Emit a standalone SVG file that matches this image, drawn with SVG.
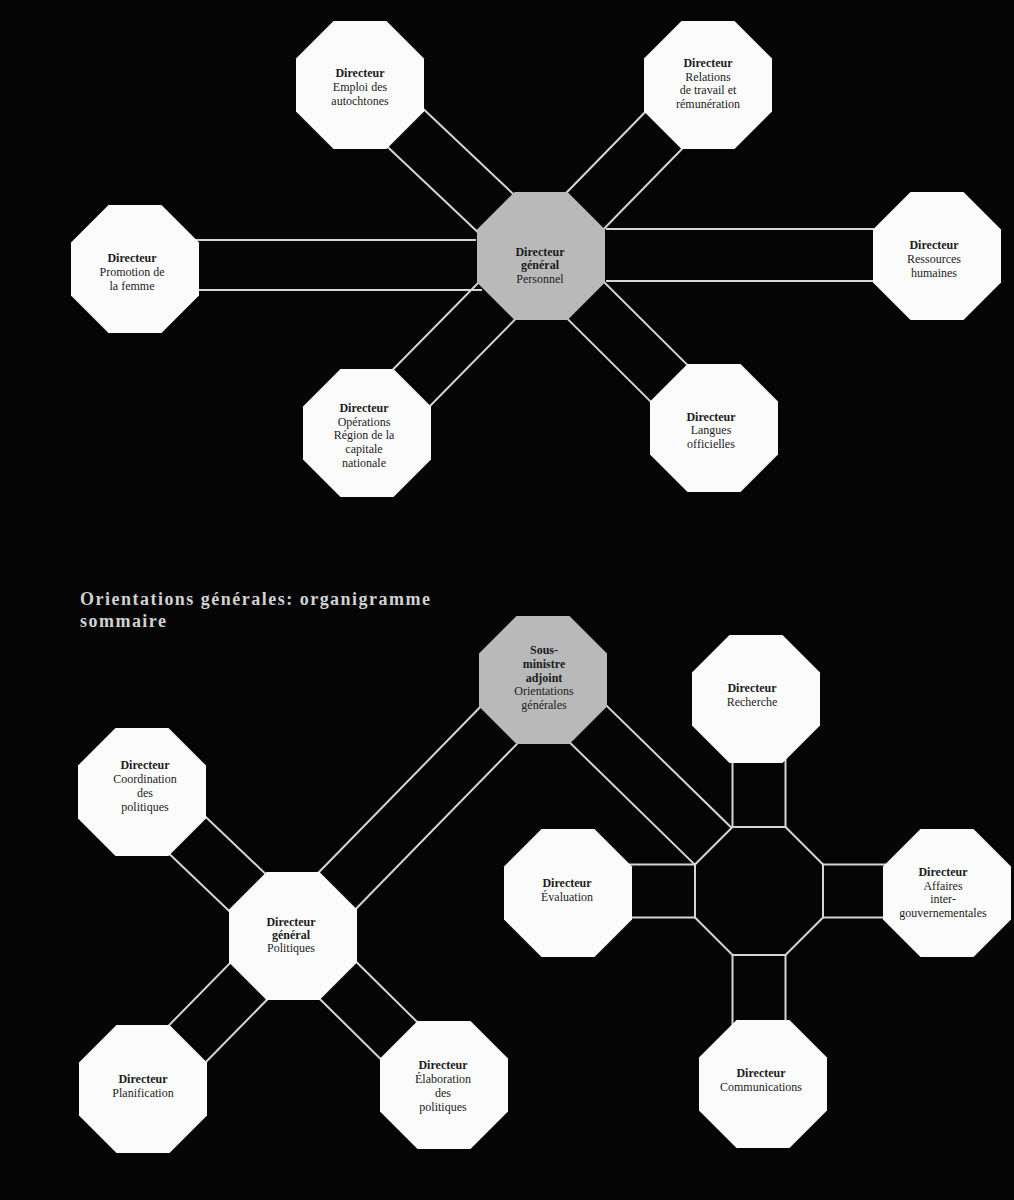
<svg xmlns="http://www.w3.org/2000/svg" xmlns:xlink="http://www.w3.org/1999/xlink" width="1014" height="1200" viewBox="0 0 1014 1200">
  <style>
    .bar { stroke: #d6d6d6; stroke-width: 2; fill: none; }
    .white { fill: #fbfbfb; }
    .grey { fill: #b9b9b9; }
    .hub { fill: #050505; stroke: #d6d6d6; stroke-width: 2; }
    .lbl { font-family: "Liberation Serif", "DejaVu Serif", serif; font-size: 12px; fill: #1c1c1c; text-anchor: middle; }
    .b { font-weight: bold; }
    .title { font-family: "Liberation Serif", "DejaVu Serif", serif; font-size: 18px; font-weight: bold; fill: #d2d2d2; }
  </style>
  <defs>
    <!-- regular octagon, flat top, 128 across flats -->
    <polygon id="oct" points="-26.5,-64 26.5,-64 64,-26.5 64,26.5 26.5,64 -26.5,64 -64,26.5 -64,-26.5"/>
  </defs>

  <rect x="0" y="0" width="1014" height="1200" fill="#050505"/>

  <!-- connector bars: pairs of parallel rules, ends hidden under the octagons -->
  <g id="connectors" class="bar">
    <!-- Personnel hub (upper chart) -->
    <line x1="135" y1="240" x2="476" y2="240"/>
    <line x1="135" y1="290" x2="482" y2="290"/>
    <line x1="606" y1="229" x2="937" y2="229"/>
    <line x1="606" y1="281" x2="937" y2="281"/>
    <line x1="342.1" y1="103.9" x2="523.1" y2="274.9"/>
    <line x1="377.9" y1="66.1" x2="558.9" y2="237.1"/>
    <line x1="689.4" y1="66.8" x2="522.4" y2="237.8"/>
    <line x1="726.6" y1="103.2" x2="559.6" y2="274.2"/>
    <line x1="385.5" y1="451.2" x2="559.5" y2="274.2"/>
    <line x1="348.5" y1="414.8" x2="522.5" y2="237.8"/>
    <line x1="732.3" y1="409.6" x2="559.3" y2="237.6"/>
    <line x1="695.7" y1="446.4" x2="522.7" y2="274.4"/>

    <!-- Politiques branch (lower left) -->
    <line x1="311.6" y1="954.2" x2="561.6" y2="698.2"/>
    <line x1="274.4" y1="917.8" x2="524.4" y2="661.8"/>
    <line x1="124.1" y1="810.8" x2="275.1" y2="954.8"/>
    <line x1="159.9" y1="773.2" x2="310.9" y2="917.2"/>
    <line x1="161.6" y1="1107.2" x2="311.6" y2="954.2"/>
    <line x1="124.4" y1="1070.8" x2="274.4" y2="917.8"/>
    <line x1="462.3" y1="1066.5" x2="311.3" y2="917.5"/>
    <line x1="425.7" y1="1103.5" x2="274.7" y2="954.5"/>

    <!-- Sous-ministre to the unlabelled hub -->
    <line x1="524.8" y1="698.6" x2="740.8" y2="909.6"/>
    <line x1="561.2" y1="661.4" x2="777.2" y2="872.4"/>

    <!-- hub spokes -->
    <line x1="732.5" y1="699" x2="732.5" y2="1084"/>
    <line x1="785.5" y1="699" x2="785.5" y2="1084"/>
    <line x1="568" y1="864.5" x2="947" y2="864.5"/>
    <line x1="568" y1="917.5" x2="947" y2="917.5"/>
  </g>

  <!-- upper chart -->
  <g id="node-emploi">
    <use xlink:href="#oct" href="#oct" class="white" transform="translate(360,85)"/>
    <text class="lbl" y="77"><tspan x="360" class="b">Directeur</tspan><tspan x="360" dy="13.8">Emploi des</tspan><tspan x="360" dy="13.8">autochtones</tspan></text>
  </g>
  <g id="node-relations">
    <use xlink:href="#oct" href="#oct" class="white" transform="translate(708,85)"/>
    <text class="lbl" y="67"><tspan x="708" class="b">Directeur</tspan><tspan x="708" dy="13.5">Relations</tspan><tspan x="708" dy="13.5">de travail et</tspan><tspan x="708" dy="13.5">rémunération</tspan></text>
  </g>
  <g id="node-promotion">
    <use xlink:href="#oct" href="#oct" class="white" transform="translate(135,269)"/>
    <text class="lbl" y="262"><tspan x="132" class="b">Directeur</tspan><tspan x="132" dy="13.8">Promotion de</tspan><tspan x="132" dy="13.8">la femme</tspan></text>
  </g>
  <g id="node-personnel">
    <use xlink:href="#oct" href="#oct" class="grey" transform="translate(541,256)"/>
    <text class="lbl" y="256"><tspan x="540" class="b">Directeur</tspan><tspan x="540" dy="13" class="b">général</tspan><tspan x="540" dy="13.8">Personnel</tspan></text>
  </g>
  <g id="node-ressources">
    <use xlink:href="#oct" href="#oct" class="white" transform="translate(937,256)"/>
    <text class="lbl" y="249"><tspan x="934" class="b">Directeur</tspan><tspan x="934" dy="13.8">Ressources</tspan><tspan x="934" dy="13.8">humaines</tspan></text>
  </g>
  <g id="node-operations">
    <use xlink:href="#oct" href="#oct" class="white" transform="translate(367,433)"/>
    <text class="lbl" y="412"><tspan x="364" class="b">Directeur</tspan><tspan x="364" dy="13.7">Opérations</tspan><tspan x="364" dy="13.7">Région de la</tspan><tspan x="364" dy="13.7">capitale</tspan><tspan x="364" dy="13.7">nationale</tspan></text>
  </g>
  <g id="node-langues">
    <use xlink:href="#oct" href="#oct" class="white" transform="translate(714,428)"/>
    <text class="lbl" y="421"><tspan x="711" class="b">Directeur</tspan><tspan x="711" dy="13.3">Langues</tspan><tspan x="711" dy="13.3">officielles</tspan></text>
  </g>

  <!-- heading of the lower chart -->
  <text class="title" x="80" y="605" textLength="350" lengthAdjust="spacing">Orientations générales: organigramme</text>
  <text class="title" x="80" y="627" textLength="86" lengthAdjust="spacing">sommaire</text>

  <!-- lower chart -->
  <g id="node-sous-ministre">
    <use xlink:href="#oct" href="#oct" class="grey" transform="translate(543,680)"/>
    <text class="lbl" y="654"><tspan x="544" class="b">Sous-</tspan><tspan x="544" dy="13.8" class="b">ministre</tspan><tspan x="544" dy="13.8" class="b">adjoint</tspan><tspan x="544" dy="13.8">Orientations</tspan><tspan x="544" dy="13.8">générales</tspan></text>
  </g>
  <g id="node-coordination">
    <use xlink:href="#oct" href="#oct" class="white" transform="translate(142,792)"/>
    <text class="lbl" y="769"><tspan x="145" class="b">Directeur</tspan><tspan x="145" dy="14">Coordination</tspan><tspan x="145" dy="14">des</tspan><tspan x="145" dy="14">politiques</tspan></text>
  </g>
  <g id="node-politiques">
    <use xlink:href="#oct" href="#oct" class="white" transform="translate(293,936)"/>
    <text class="lbl" y="926"><tspan x="291" class="b">Directeur</tspan><tspan x="291" dy="13.2" class="b">général</tspan><tspan x="291" dy="13.2">Politiques</tspan></text>
  </g>
  <g id="node-planification">
    <use xlink:href="#oct" href="#oct" class="white" transform="translate(143,1089)"/>
    <text class="lbl" y="1083"><tspan x="143" class="b">Directeur</tspan><tspan x="143" dy="14">Planification</tspan></text>
  </g>
  <g id="node-elaboration">
    <use xlink:href="#oct" href="#oct" class="white" transform="translate(444,1085)"/>
    <text class="lbl" y="1069"><tspan x="443" class="b">Directeur</tspan><tspan x="443" dy="14">Élaboration</tspan><tspan x="443" dy="14">des</tspan><tspan x="443" dy="14">politiques</tspan></text>
  </g>
  <g id="node-hub">
    <use xlink:href="#oct" href="#oct" class="hub" transform="translate(759,891)"/>
  </g>
  <g id="node-recherche">
    <use xlink:href="#oct" href="#oct" class="white" transform="translate(756,699)"/>
    <text class="lbl" y="692"><tspan x="752" class="b">Directeur</tspan><tspan x="752" dy="14">Recherche</tspan></text>
  </g>
  <g id="node-evaluation">
    <use xlink:href="#oct" href="#oct" class="white" transform="translate(568,893)"/>
    <text class="lbl" y="887"><tspan x="567" class="b">Directeur</tspan><tspan x="567" dy="14">Évaluation</tspan></text>
  </g>
  <g id="node-affaires">
    <use xlink:href="#oct" href="#oct" class="white" transform="translate(947,893)"/>
    <text class="lbl" y="876"><tspan x="943" class="b">Directeur</tspan><tspan x="943" dy="13.7">Affaires</tspan><tspan x="943" dy="13.7">inter-</tspan><tspan x="943" dy="13.7">gouvernementales</tspan></text>
  </g>
  <g id="node-communications">
    <use xlink:href="#oct" href="#oct" class="white" transform="translate(763,1084)"/>
    <text class="lbl" y="1077"><tspan x="761" class="b">Directeur</tspan><tspan x="761" dy="14">Communications</tspan></text>
  </g>
</svg>
